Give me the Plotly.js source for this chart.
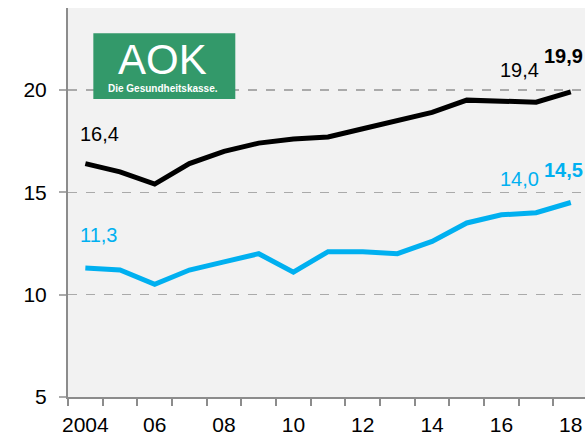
<!DOCTYPE html>
<html>
<head>
<meta charset="utf-8">
<script src="https://cdn.plot.ly/plotly-3.0.1.min.js"></script>
<style>html,body{margin:0;padding:0;background:#fff}#chart{width:585px;height:439px}</style>
</head>
<body>
<div id="chart"></div>
<script>
// ---- data ----
var years = [2004, 2005, 2006, 2007, 2008, 2009, 2010, 2011, 2012, 2013, 2014, 2015, 2016, 2017, 2018];
var seriesBlack = [16.4, 16.0, 15.4, 16.4, 17.0, 17.4, 17.6, 17.7, 18.1, 18.5, 18.9, 19.5, 19.45, 19.4, 19.9];
var seriesBlue  = [11.3, 11.2, 10.5, 11.2, 11.6, 12.0, 11.1, 12.1, 12.1, 12.0, 12.6, 13.5, 13.9, 14.0, 14.5];
var xTickVals = [2004, 2006, 2008, 2010, 2012, 2014, 2016, 2018];
var xTickText = ["2004", "06", "08", "10", "12", "14", "16", "18"];
var yTickVals = [5, 10, 15, 20];
var labelIdx = [0, 13, 14];

// ---- styles ----
var FONT = '"Liberation Sans", Arial, sans-serif';
var BLACK = '#000000';
var BLUE = '#00b0f0';
var AXIS = '#8c8c8c';

function fmt(v) { return v.toFixed(1).replace('.', ','); }

// label placement per index position (first, second-last, last)
var placeBlack = [
  {xanchor: 'left', xshift: -6, yshift: 18, bold: false},
  {xanchor: 'right', xshift: 4, yshift: 20, bold: false},
  {xanchor: 'right', xshift: 13, yshift: 24, bold: true}
];
var placeBlue = [
  {xanchor: 'left', xshift: -6, yshift: 21, bold: false},
  {xanchor: 'right', xshift: 4, yshift: 22, bold: false},
  {xanchor: 'right', xshift: 13, yshift: 21, bold: true}
];

var annotations = [];
function addLabels(vals, color, place) {
  labelIdx.forEach(function (i, k) {
    var p = place[k];
    annotations.push({
      x: years[i], y: vals[i], xref: 'x', yref: 'y',
      text: p.bold ? '<b>' + fmt(vals[i]) + '</b>' : fmt(vals[i]),
      showarrow: false, xanchor: p.xanchor, yanchor: 'bottom',
      xshift: p.xshift, yshift: p.yshift,
      font: {family: FONT, size: 20, color: color},
      borderpad: 0
    });
  });
}
addLabels(seriesBlack, BLACK, placeBlack);
addLabels(seriesBlue, BLUE, placeBlue);

// AOK logo (decoration)
annotations.push({
  xref: 'paper', yref: 'paper', x: 0.1828, y: 0.868, xanchor: 'center', yanchor: 'middle',
  text: 'AOK', showarrow: false,
  font: {family: '"Liberation Sans", Arial, sans-serif', size: 42, color: '#ffffff'}
});
annotations.push({
  xref: 'paper', yref: 'paper', x: 0.1828, y: 0.793, xanchor: 'center', yanchor: 'middle',
  text: '<b>Die Gesundheitskasse.</b>', showarrow: false,
  font: {family: '"Liberation Sans", Arial, sans-serif', size: 10, color: '#ffffff'}
});

var traces = [
  {x: years, y: seriesBlack, type: 'scatter', mode: 'lines',
   line: {color: BLACK, width: 5}, hoverinfo: 'skip'},
  {x: years, y: seriesBlue, type: 'scatter', mode: 'lines',
   line: {color: BLUE, width: 5}, hoverinfo: 'skip'}
];

var layout = {
  width: 585, height: 439,
  margin: {l: 68, r: 0, t: 8, b: 42},
  paper_bgcolor: '#ffffff',
  plot_bgcolor: '#f2f2f2',
  showlegend: false,
  xaxis: {
    range: [2003.5, 2018.41],
    tickmode: 'array', tickvals: xTickVals, ticktext: xTickText,
    ticks: '', showgrid: false, zeroline: false,
    showline: true, linecolor: AXIS, linewidth: 2,
    tickfont: {family: FONT, size: 21, color: '#000'},
    ticklabelstandoff: 8,
    minor: {tick0: 2003.5, dtick: 1, ticks: 'outside', ticklen: 7, tickwidth: 2, tickcolor: AXIS, showgrid: false}
  },
  yaxis: {
    range: [5, 24], tickmode: 'array', tickvals: yTickVals,
    ticks: 'outside', ticklen: 7, tickwidth: 2, tickcolor: '#aaaaaa',
    showgrid: true, gridcolor: '#aaaaaa', griddash: 'dash', gridwidth: 1.5,
    zeroline: false, showline: true, linecolor: AXIS, linewidth: 2,
    tickfont: {family: FONT, size: 21, color: '#000'},
    ticklabelstandoff: 8
  },
  shapes: [{
    type: 'rect', xref: 'paper', yref: 'paper', layer: 'above',
    x0: 0.049, x1: 0.3236, y0: 0.766, y1: 0.935,
    fillcolor: '#33996a', line: {width: 0}
  }],
  annotations: annotations
};

Plotly.newPlot('chart', traces, layout, {staticPlot: true, displayModeBar: false});
</script>
</body>
</html>
